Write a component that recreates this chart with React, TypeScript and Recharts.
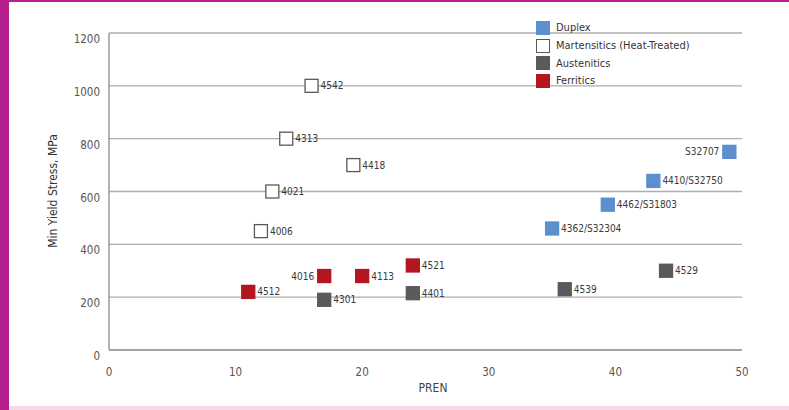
import { ScatterChart, Scatter, XAxis, YAxis, CartesianGrid } from "recharts";

const FONT = "'DejaVu Sans Condensed', 'Liberation Sans Narrow', 'DejaVu Sans', sans-serif";

const xTicks = [0, 10, 20, 30, 40, 50];
const yTicks = [0, 200, 400, 600, 800, 1000, 1200];

const duplexPren = [49, 43, 39.4, 35];
const duplexStress = [750, 640, 550, 460];
const duplexGrades = ["S32707", "4410/S32750", "4462/S31803", "4362/S32304"];

const martPren = [16, 14, 19.3, 12.9, 12];
const martStress = [1000, 800, 700, 600, 450];
const martGrades = ["4542", "4313", "4418", "4021", "4006"];

const austPren = [17, 24, 36, 44];
const austStress = [190, 215, 230, 300];
const austGrades = ["4301", "4401", "4539", "4529"];

const ferrPren = [11, 17, 20, 24];
const ferrStress = [220, 280, 280, 320];
const ferrGrades = ["4512", "4016", "4113", "4521"];

// grades whose label sits on the left of the marker
const leftLabels = ["S32707", "4016"];

const toPoints = (xs: number[], ys: number[], names: string[]) =>
  xs.map((x, i) => ({ x, y: ys[i], label: names[i] }));

const series = [
  { name: "Duplex", fill: "#5b8fcd", stroke: "#5b8fcd", data: toPoints(duplexPren, duplexStress, duplexGrades) },
  { name: "Martensitics (Heat-Treated)", fill: "#ffffff", stroke: "#5a5a5a", data: toPoints(martPren, martStress, martGrades) },
  { name: "Austenitics", fill: "#5a5a5a", stroke: "#5a5a5a", data: toPoints(austPren, austStress, austGrades) },
  { name: "Ferritics", fill: "#b3161f", stroke: "#b3161f", data: toPoints(ferrPren, ferrStress, ferrGrades) },
];

const squareShape = (fill: string, stroke: string) => (props: any) => {
  const { cx, cy, payload } = props;
  const left = leftLabels.includes(payload.label);
  return (
    <g>
      <rect x={cx - 6.5} y={cy - 6.5} width={13} height={13} fill={fill} stroke={stroke} strokeWidth={1.3} />
      <text
        x={left ? cx - 10 : cx + 9}
        y={cy}
        dy="0.35em"
        textAnchor={left ? "end" : "start"}
        fontSize={10}
        fontFamily={FONT}
        fill="#3a3a3a"
      >
        {payload.label}
      </text>
    </g>
  );
};

function YTick({ x, y, payload }: any) {
  return (
    <text x={x} y={y + 6} dy="0.355em" textAnchor="end" fontSize={11.5} fontFamily={FONT} fill="#555">
      {payload.value}
    </text>
  );
}

function XTick({ x, y, payload }: any) {
  return (
    <text x={x} y={y} dy="0.355em" textAnchor="middle" fontSize={11.5} fontFamily={FONT} fill="#555">
      {payload.value}
    </text>
  );
}

export default function App() {
  return (
    <div style={{ position: "absolute", left: 0, top: 0, width: 789, height: 410, background: "#fff", overflow: "hidden" }}>
      <div style={{ position: "absolute", left: 0, top: 0, width: 9, height: 410, background: "#b5208e" }} />
      <div style={{ position: "absolute", left: 0, top: 0, width: 789, height: 2, background: "#b5208e" }} />
      <div style={{ position: "absolute", left: 9, top: 406, width: 780, height: 4, background: "#f6d8eb" }} />

      <div style={{ position: "absolute", left: 0, top: 0 }}>
        <ScatterChart width={789} height={410} margin={{ top: 33, right: 47, bottom: 30, left: 49 }}>
          <CartesianGrid horizontal vertical={false} stroke="#adadad" strokeWidth={1.3} />
          <XAxis
            type="number"
            dataKey="x"
            domain={[0, 50]}
            ticks={xTicks}
            height={30}
            tickSize={0}
            tickMargin={22}
            tick={<XTick />}
            axisLine={{ stroke: "#9a9a9a", strokeWidth: 1.5 }}
            label={{
              content: () => (
                <text x={433} y={388} dy="0.355em" textAnchor="middle" fontSize={12} fontFamily={FONT} fill="#444">
                  PREN
                </text>
              ),
            }}
          />
          <YAxis
            type="number"
            dataKey="y"
            domain={[0, 1200]}
            ticks={yTicks}
            width={60}
            tickSize={0}
            tickMargin={9}
            tick={<YTick />}
            axisLine={{ stroke: "#9a9a9a", strokeWidth: 1.5 }}
            label={{
              content: () => (
                <text
                  x={53}
                  y={191}
                  dy="0.355em"
                  textAnchor="middle"
                  transform="rotate(-90 53 191)"
                  fontSize={12}
                  fontFamily={FONT}
                  fill="#333"
                >
                  Min Yield Stress, MPa
                </text>
              ),
            }}
          />
          {series.map((s) => (
            <Scatter
              key={s.name}
              name={s.name}
              data={s.data}
              shape={squareShape(s.fill, s.stroke)}
              isAnimationActive={false}
            />
          ))}
        </ScatterChart>
      </div>

      <div style={{ position: "absolute", left: 536, top: 19, fontFamily: FONT, fontSize: 11, color: "#333" }}>
        {series.map((s) => (
          <div key={s.name} style={{ display: "flex", alignItems: "center", height: 17.7 }}>
            <span
              style={{
                display: "inline-block",
                width: 12,
                height: 12,
                background: s.fill,
                border: `1.5px solid ${s.stroke}`,
                marginRight: 6,
              }}
            />
            <span>{s.name}</span>
          </div>
        ))}
      </div>
    </div>
  );
}
